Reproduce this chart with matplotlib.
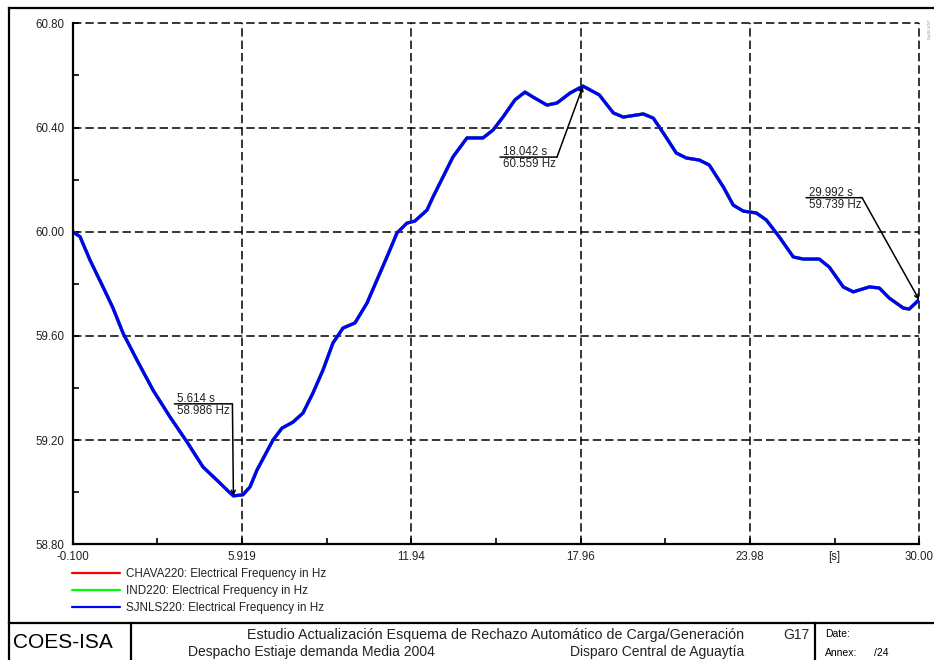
import matplotlib
matplotlib.use("Agg")
import matplotlib.pyplot as plt
from matplotlib.lines import Line2D
from matplotlib.transforms import offset_copy

plt.rcParams["font.family"] = ["Liberation Sans", "DejaVu Sans"]

# ---------- Data ----------
time_s = [-0.100, 0.160, 0.515, 0.977, 1.333, 1.688, 2.186, 2.755, 3.359, 3.963,
          4.532, 5.136, 5.390, 5.614, 5.950, 6.203, 6.452, 7.021, 7.341, 7.732, 8.088,
          8.443, 8.799, 9.154, 9.510, 9.937, 10.363, 10.719, 11.073, 11.429, 11.784,
          12.069, 12.496, 12.709, 13.065, 13.420, 13.918, 14.487, 14.842, 15.198, 15.624,
          15.980, 16.264, 16.762, 17.117, 17.579, 18.042, 18.623, 19.121, 19.476, 20.187,
          20.542, 20.898, 21.360, 21.716, 22.178, 22.533, 23.031, 23.386, 23.742, 24.204,
          24.560, 25.022, 25.520, 25.875, 26.444, 26.800, 27.297, 27.653, 28.222, 28.577,
          28.933, 29.430, 29.643, 29.992]

freq_sjnls = [60.000, 59.981, 59.891, 59.788, 59.707, 59.611, 59.507, 59.392, 59.289, 59.193,
              59.097, 59.035, 59.008, 58.986, 58.990, 59.020, 59.085, 59.200, 59.246, 59.269, 59.304,
              59.381, 59.469, 59.573, 59.630, 59.650, 59.726, 59.815, 59.903, 59.995, 60.033,
              60.041, 60.083, 60.133, 60.210, 60.287, 60.360, 60.360, 60.390, 60.440, 60.506,
              60.536, 60.517, 60.486, 60.494, 60.532, 60.559, 60.525, 60.456, 60.440, 60.452,
              60.436, 60.379, 60.302, 60.283, 60.275, 60.256, 60.172, 60.102, 60.079, 60.072,
              60.045, 59.980, 59.903, 59.895, 59.895, 59.864, 59.788, 59.769, 59.788, 59.784,
              59.745, 59.707, 59.703, 59.739]

# the three buses overlap almost exactly in the reference
freq_chava = list(freq_sjnls)
freq_ind = list(freq_sjnls)

series_labels = ["CHAVA220: Electrical Frequency in Hz",
                 "IND220: Electrical Frequency in Hz",
                 "SJNLS220: Electrical Frequency in Hz"]
series_colors = ["#FF0000", "#00FF00", "#0000FF"]

x_major = [-0.100, 5.919, 11.94, 17.96, 23.98, 30.00]
x_major_labels = ["-0.100", "5.919", "11.94", "17.96", "23.98", "30.00"]
x_minor = [2.91, 8.93, 14.95, 20.97, 26.99]
x_minor_labels = ["", "", "", "", "[s]"]
y_major = [58.80, 59.20, 59.60, 60.00, 60.40, 60.80]
y_minor = [59.00, 59.40, 59.80, 60.20, 60.60]

# (time, freq, text1, text2, corner dx, corner dy, bar length) in pixels
markers = [
    (5.614, 58.986, "5.614 s", "58.986 Hz", -1, 92, 58),
    (18.042, 60.559, "18.042 s", "60.559 Hz", -26, -71, 57),
    (29.992, 59.739, "29.992 s", "59.739 Hz", -57, 102, 56),
]

# ---------- Figure ----------
W, H = 934, 660
fig = plt.figure(figsize=(W / 100, H / 100), dpi=100)
ax = fig.add_axes([72.7 / W, 1 - 544.3 / H, (919.3 - 72.7) / W, (544.3 - 23.3) / H])

for f, c, lbl in zip([freq_chava, freq_ind, freq_sjnls], series_colors, series_labels):
    ax.plot(time_s, f, color=c, linewidth=2.3, label=lbl,
            solid_joinstyle="round", solid_capstyle="round")

ax.set_xlim(-0.100, 30.00)
ax.set_ylim(58.80, 60.80)
ax.set_xticks(x_major)
ax.set_xticklabels(x_major_labels)
ax.set_xticks(x_minor, minor=True)
ax.set_xticklabels(x_minor_labels, minor=True)
ax.set_yticks(y_major)
ax.set_yticklabels([f"{v:.2f}" for v in y_major])
ax.set_yticks(y_minor, minor=True)

ax.tick_params(axis="both", which="both", direction="in", labelsize=8.3,
               colors="black", labelcolor="#222222", width=1.2, length=4)
ax.tick_params(axis="x", which="both", pad=5)
ax.tick_params(axis="y", which="both", pad=6)

ax.grid(True, which="major", color="black", linestyle=(0, (5.5, 2.6)), linewidth=1.1)
for gl in ax.get_xgridlines() + ax.get_ygridlines():
    gl.set_clip_on(False)
ax.set_axisbelow(True)

for s in ["top", "right"]:
    ax.spines[s].set_visible(False)
for s in ["left", "bottom"]:
    ax.spines[s].set_linewidth(1.6)

# ---------- Marker annotations ----------
for t, f, l1, l2, dx, dy, L in markers:
    tr_corner = offset_copy(ax.transData, fig=fig, x=dx, y=dy, units="dots")
    tr_left = offset_copy(ax.transData, fig=fig, x=dx - L, y=dy, units="dots")
    ax.annotate("", xy=(t, f), xytext=(t, f), textcoords=tr_corner,
                arrowprops=dict(arrowstyle="->", color="black", lw=1.1,
                                shrinkA=0, shrinkB=0, mutation_scale=7))
    ax.annotate("", xy=(t, f), xycoords=tr_left, xytext=(t, f), textcoords=tr_corner,
                arrowprops=dict(arrowstyle="-", color="black", lw=1.1,
                                shrinkA=0, shrinkB=0))
    tr_txt = offset_copy(ax.transData, fig=fig, x=dx - L + 3, y=dy - 1, units="dots")
    ax.text(t, f, l1, transform=tr_txt, fontsize=8.3, ha="left", va="bottom",
            color="#222222")
    ax.text(t, f, l2, transform=tr_txt, fontsize=8.3, ha="left", va="top",
            color="#222222")

# ---------- Legend ----------
leg = ax.legend(loc="upper left", bbox_to_anchor=(72 / W, 1 - 568 / H),
                bbox_transform=fig.transFigure, frameon=False, fontsize=8.4,
                handlelength=4.1, handletextpad=0.55, labelspacing=0.42,
                borderpad=0, borderaxespad=0, handleheight=0.8)
for h in leg.legend_handles:
    h.set_linewidth(1.6)
for t in leg.get_texts():
    t.set_color("#222222")

# ---------- Page frame and title block ----------
def fline(x0, y0, x1, y1, lw=1.6):
    fig.add_artist(Line2D([x0 / W, x1 / W], [1 - y0 / H, 1 - y1 / H],
                          color="black", linewidth=lw, transform=fig.transFigure))

fline(9, 7.5, W, 7.5)
fline(9, 7.5, 9, H)
fline(9, 623, W, 623)
fline(131, 623, 131, H)
fline(815, 623, 815, H)

def ftext(x, y, s, **kw):
    fig.text(x / W, 1 - y / H, s, **kw)

ftext(13, 643, "COES-ISA", fontsize=15, va="center", ha="left")
ftext(496, 635, "Estudio Actualización Esquema de Rechazo Automático de Carga/Generación",
      fontsize=10.3, va="center", ha="center", color="#222222")
ftext(809, 635, "G17", fontsize=10, va="center", ha="right", color="#222222")
ftext(188, 652, "Despacho Estiaje demanda Media 2004", fontsize=10, va="center",
      ha="left", color="#222222")
ftext(570, 652, "Disparo Central de Aguaytía", fontsize=10, va="center",
      ha="left", color="#222222")
ftext(825, 634, "Date:", fontsize=7.5, va="center", ha="left")
ftext(825, 653, "Annex:", fontsize=7.5, va="center", ha="left")
ftext(874, 653, "/24", fontsize=7.5, va="center", ha="left")
ftext(930, 28, "DIgSILENT", fontsize=3, rotation=90, va="center", ha="center",
      color="#999999")

fig.savefig("out.png", dpi=100)
